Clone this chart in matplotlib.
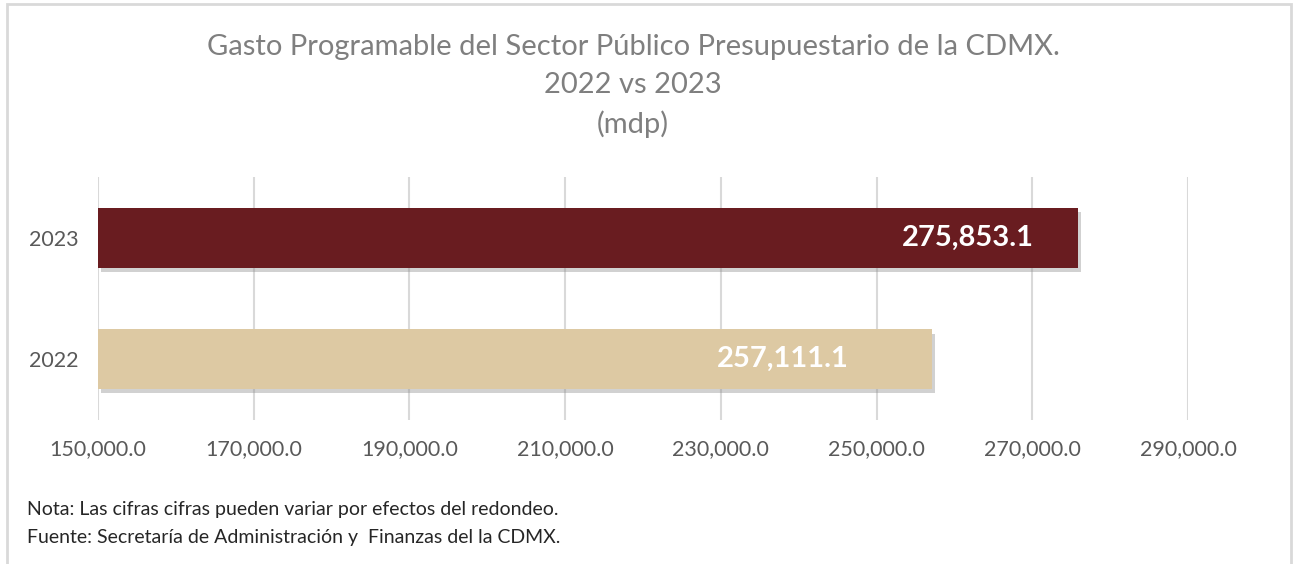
import matplotlib
matplotlib.use("Agg")
import matplotlib.pyplot as plt
from matplotlib import patheffects as pe
from matplotlib.patches import Rectangle

# datos (millones de pesos)
years = ["2022", "2023"]
values = [257111.1, 275853.1]
colors = ["#DDC9A3", "#691C20"]
# desplazamiento de cada etiqueta desde el final de su barra (px)
label_offsets = [-83, -44]

xticks = [150000, 170000, 190000, 210000, 230000, 250000, 270000, 290000]

title = ("Gasto Programable del Sector Público Presupuestario de la CDMX.\n"
         "2022 vs 2023\n(mdp)")
nota = "Nota: Las cifras cifras pueden variar por efectos del redondeo."
fuente = "Fuente: Secretaría de Administración y  Finanzas del la CDMX."

plt.rcParams["font.family"] = ["Lato", "DejaVu Sans"]

W, H = 1293, 564
fig = plt.figure(figsize=(W / 100, H / 100), dpi=100)
fig.patch.set_facecolor("white")

# marco del gráfico
fig.add_artist(Rectangle((7 / W, -0.05), (1291 - 7) / W, 1.05 - 4 / H,
                         transform=fig.transFigure, fill=False,
                         edgecolor="#D9D9D9", linewidth=2))

ax = fig.add_axes([98 / W, 1 - 420 / H, (1188 - 98) / W, (420 - 177) / H])

ypos = list(range(len(years)))
shadow = [pe.SimplePatchShadow(offset=(2, -3), shadow_rgbFace="#8C8C8C", alpha=0.4),
          pe.Normal()]
bars = ax.barh(ypos, [v - xticks[0] for v in values], left=xticks[0], height=0.49,
               color=colors, zorder=3)
for b in bars:
    b.set_path_effects(shadow)

for y, v, off in zip(ypos, values, label_offsets):
    ax.annotate(f"{v:,.1f}", xy=(v, y), xytext=(off * 0.72, 0),
                textcoords="offset points", ha="right", va="center",
                color="white", fontsize=21, fontweight="bold", zorder=4)

ax.set_xlim(xticks[0], xticks[-1])
ax.set_ylim(-0.5, len(years) - 0.5)
ax.set_xticks(xticks)
ax.set_xticklabels([f"{t:,.1f}" for t in xticks])
ax.set_yticks(ypos)
ax.set_yticklabels(years)
ax.grid(axis="x", color="#D9D9D9", linewidth=1.5, zorder=0)
ax.tick_params(axis="both", length=0, labelsize=15.5, colors="#595959")
ax.tick_params(axis="x", pad=14)
ax.tick_params(axis="y", pad=14)
for s in ax.spines.values():
    s.set_visible(False)

fig.text(633 / W, 1 - 86 / H, title, ha="center", va="center", fontsize=21,
         color="#7F7F7F", linespacing=1.55)
fig.text(27 / W, 1 - 510 / H, nota, ha="left", va="center", fontsize=14,
         color="#262626")
fig.text(27 / W, 1 - 537 / H, fuente, ha="left", va="center", fontsize=14,
         color="#262626")

fig.savefig("out.png", dpi=100, facecolor="white")
